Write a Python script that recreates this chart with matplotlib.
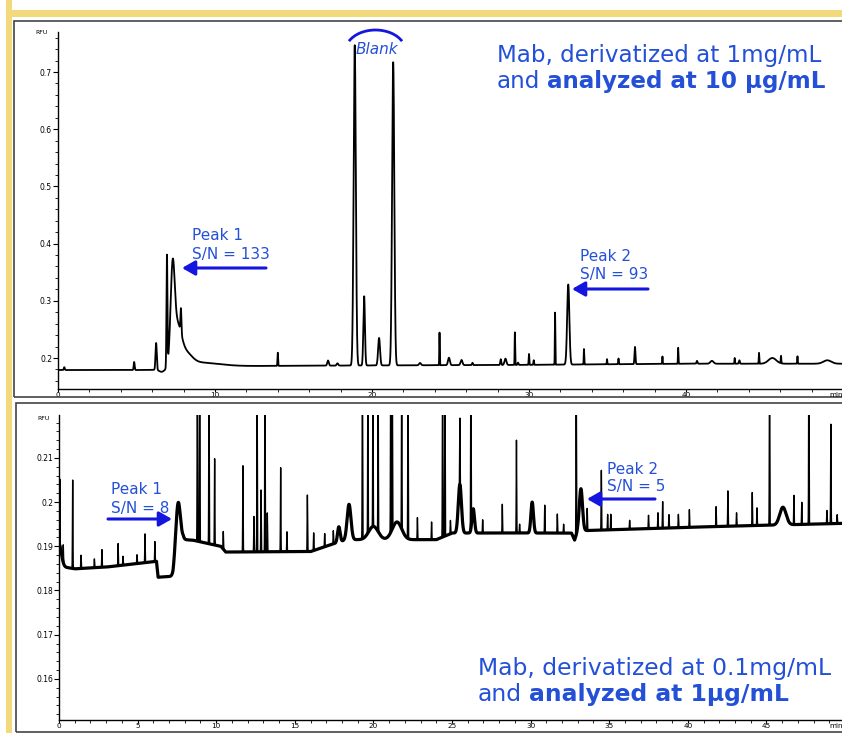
import numpy as np
import matplotlib.pyplot as plt
from matplotlib.patches import Rectangle, Arc, FancyArrowPatch
from matplotlib.ticker import MultipleLocator, FormatStrFormatter

W, H = 842, 733

## top run: derivatized at 1 mg/mL, analyzed at 10 ug/mL
top_base_t = [0, 6.8, 7.6, 12, 20, 30, 40, 50]
top_base_v = [0.179, 0.179, 0.186, 0.186, 0.187, 0.188, 0.190, 0.190]
# peaks: retention time (min), height above baseline (RFU), width (sigma, min)
top_peak_t = [0.4, 4.85, 6.25, 6.6, 6.94, 7.3, 7.6, 8.1, 9.0, 7.83,
              14.0, 17.2, 17.8, 18.9, 19.5, 20.45, 21.35, 23.06, 24.3, 24.9,
              25.7, 26.4, 28.2, 28.5, 29.1, 29.3, 30.0, 30.3, 31.66, 32.5,
              33.5, 34.97, 35.7, 36.75, 38.5, 39.5, 40.7, 41.65, 43.1, 43.4,
              44.65, 45.5, 46.05, 47.1, 49.0]
top_peak_h = [0.005, 0.014, 0.047, -0.004, 0.194, 0.155, 0.06, 0.02, 0.006, 0.042,
              0.023, 0.009, 0.004, 0.56, 0.121, 0.048, 0.53, 0.004, 0.057, 0.013,
              0.009, 0.004, 0.010, 0.011, 0.057, 0.004, 0.019, 0.008, 0.091, 0.14,
              0.027, 0.009, 0.010, 0.030, 0.013, 0.028, 0.005, 0.005, 0.010, 0.006,
              0.019, 0.010, 0.013, 0.013, 0.006]
top_peak_w = [0.03, 0.03, 0.04, 0.15, 0.03, 0.13, 0.25, 0.4, 1.2, 0.03,
              0.02, 0.05, 0.05, 0.07, 0.05, 0.06, 0.07, 0.06, 0.015, 0.06,
              0.06, 0.03, 0.03, 0.06, 0.015, 0.03, 0.02, 0.02, 0.015, 0.07,
              0.015, 0.015, 0.02, 0.03, 0.015, 0.015, 0.03, 0.1, 0.015, 0.03,
              0.015, 0.25, 0.015, 0.015, 0.25]
top_xticks = [0, 10, 20, 30, 40]

## bottom run: derivatized at 0.1 mg/mL, analyzed at 1 ug/mL
bot_base_t = [0, 1, 3, 6.2, 6.3, 7.25, 7.9, 8.5, 10.3, 10.6, 16, 17, 18.3,
              24, 25, 32.6, 32.8, 33.0, 40, 50]
bot_base_v = [0.1855, 0.1849, 0.1853, 0.1866, 0.1830, 0.1832, 0.1915, 0.1914,
              0.1900, 0.1887, 0.1888, 0.1900, 0.1915, 0.1915, 0.1930, 0.1930,
              0.1914, 0.1935, 0.1943, 0.1952]
# broad features (peak 1, peak 2 and humps)
bot_broad_t = [0.0, 7.57, 17.8, 18.45, 20.0, 21.5, 25.5, 26.35, 30.1, 33.2, 46.05]
bot_broad_h = [0.005, 0.0125, 0.0035, 0.008, 0.003, 0.004, 0.011, 0.0055, 0.007, 0.0095, 0.004]
bot_broad_w = [0.15, 0.15, 0.08, 0.12, 0.3, 0.3, 0.1, 0.08, 0.08, 0.1, 0.2]
# sharp spikes (tall ones run off the top of the scale)
bot_spike_t = [0.05, 0.27, 0.87, 1.4, 2.25, 2.73, 3.76, 4.07, 4.96, 5.47, 6.1,
               8.8, 8.95, 9.54, 9.9, 10.45, 11.7, 12.4, 12.6, 12.85, 13.1, 13.25,
               14.1, 14.5, 15.8, 16.2, 16.9, 17.45, 19.3, 19.65, 19.97, 20.3,
               21.1, 21.2, 21.8, 22.2, 22.8, 23.7, 24.4, 24.55, 24.9, 25.5, 26.2,
               26.95, 28.2, 29.1, 29.3, 30.9, 31.7, 32.1, 32.9, 33.6, 34.5, 34.9,
               35.1, 36.3, 37.5, 38.1, 38.4, 38.8, 39.4, 40.1, 41.8, 42.55, 43.1,
               44.1, 44.4, 45.2, 46.75, 47.25, 47.7, 48.85, 49.1, 49.5]
bot_spike_h = [0.015, 0.004, 0.020, 0.003, 0.002, 0.004, 0.005, 0.002, 0.002, 0.0065, 0.0045,
               0.04, 0.04, 0.04, 0.0195, 0.004, 0.0195, 0.008, 0.04, 0.014, 0.04, 0.0088,
               0.019, 0.0045, 0.0128, 0.004, 0.003, 0.003, 0.04, 0.04, 0.04, 0.04,
               0.04, 0.04, 0.04, 0.04, 0.005, 0.004, 0.04, 0.04, 0.003, 0.015, 0.04,
               0.003, 0.0065, 0.021, 0.002, 0.0063, 0.0043, 0.002, 0.04, 0.005, 0.0135, 0.0035,
               0.0035, 0.002, 0.003, 0.0035, 0.006, 0.003, 0.003, 0.004, 0.0045, 0.008, 0.003,
               0.0075, 0.004, 0.04, 0.0066, 0.005, 0.04, 0.003, 0.0225, 0.002]
bot_xticks = [0, 5, 10, 15, 20, 25, 30, 35, 40, 45]

def trace(t, base_t, base_v, pk_t, pk_h, pk_w):
    y = np.interp(t, base_t, base_v)
    for c, h, w in zip(pk_t, pk_h, pk_w):
        y = y + h * np.exp(-0.5 * ((t - c) / w) ** 2)
    return y

def fx(px):
    return px / W

def fy(py):
    return 1 - py / H

t = np.linspace(0, 50, 40001)
y_top = trace(t, top_base_t, top_base_v, top_peak_t, top_peak_h, top_peak_w)
y_band = trace(t, bot_base_t, bot_base_v, bot_broad_t, bot_broad_h, bot_broad_w)
y_bot = y_band + trace(t, [0, 50], [0, 0], bot_spike_t, bot_spike_h, [0.014] * len(bot_spike_t))

fig = plt.figure(figsize=(W / 100, H / 100), dpi=100)

## yellow page border and panel frames
gold = '#f1d97c'
fig.add_artist(Rectangle((fx(6), 0), fx(6), 1, transform=fig.transFigure, color=gold, lw=0))
fig.add_artist(Rectangle((fx(6), fy(17)), 1, fy(10) - fy(17), transform=fig.transFigure, color=gold, lw=0))
fig.add_artist(Rectangle((fx(14), fy(397)), fx(880) - fx(14), fy(21) - fy(397),
                         transform=fig.transFigure, fill=False, ec='#444444', lw=1.2))
fig.add_artist(Rectangle((fx(16), fy(732)), fx(880) - fx(16), fy(403) - fy(732),
                         transform=fig.transFigure, fill=False, ec='#444444', lw=1.2))

ax1 = fig.add_axes([fx(58), fy(389), fx(843) - fx(58), fy(32) - fy(389)])
ax2 = fig.add_axes([fx(59), fy(720), fx(845) - fx(59), fy(415) - fy(720)])

ax1.plot(t, y_top, color='black', lw=1.3)
ax2.plot(t, y_band, color='black', lw=2.3, solid_capstyle='butt')
ax2.plot(t, y_bot, color='black', lw=1.0)

ax1.set_xticks(top_xticks)
ax1.xaxis.set_minor_locator(MultipleLocator(2))
ax1.yaxis.set_major_locator(MultipleLocator(0.1))
ax1.yaxis.set_minor_locator(MultipleLocator(0.02))
ax1.set_xlim(0, 50)
ax1.set_ylim(0.1458, 0.770)

ax2.set_xticks(bot_xticks)
ax2.xaxis.set_minor_locator(MultipleLocator(1))
ax2.yaxis.set_major_locator(MultipleLocator(0.01))
ax2.yaxis.set_minor_locator(MultipleLocator(0.002))
ax2.set_xlim(0, 50)
ax2.set_ylim(0.1507, 0.2197)

for ax in (ax1, ax2):
    ax.set_facecolor('none')
    ax.spines['top'].set_visible(False)
    ax.spines['right'].set_visible(False)
    ax.spines['left'].set_linewidth(1.0)
    ax.spines['bottom'].set_linewidth(1.0)
    ax.xaxis.set_major_formatter(FormatStrFormatter('%g'))
    ax.yaxis.set_major_formatter(FormatStrFormatter('%g'))
    ax.tick_params(axis='y', which='major', length=3.5, width=0.8, labelsize=5.5, pad=0.8)
    ax.tick_params(axis='y', which='minor', length=2.2, width=0.6)
    ax.tick_params(axis='x', which='major', length=2.2, width=0.8, labelsize=5.2, pad=0.3)
    ax.tick_params(axis='x', which='minor', length=1.8, width=0.6)

fig.text(fx(42), fy(33), 'RFU', fontsize=4.5, ha='center', va='center')
fig.text(fx(44), fy(419), 'RFU', fontsize=4.5, ha='center', va='center')
fig.text(fx(836), fy(395), 'min', fontsize=5.2, ha='center', va='center')
fig.text(fx(836), fy(726), 'min', fontsize=5.2, ha='center', va='center')

## annotations
txt_blue = '#2450d8'
arr_blue = '#1515e0'

def big_label(x, y1, y2, first, bold, size):
    fig.text(fx(x), fy(y1), first, fontsize=size, color=txt_blue, ha='left', va='baseline')
    a = fig.text(fx(x), fy(y2), 'and', fontsize=size, color=txt_blue, ha='left', va='baseline')
    fig.add_artist(plt.Annotation(bold, xy=(1, 0), xycoords=a, xytext=(5, 0),
                                  textcoords='offset points', fontsize=size,
                                  color=txt_blue, fontweight='bold', va='bottom'))

big_label(497, 62, 88, 'Mab, derivatized at 1mg/mL', 'analyzed at 10 µg/mL', 16.6)
big_label(478, 675, 701, 'Mab, derivatized at 0.1mg/mL', 'analyzed at 1µg/mL', 16.9)

def peak_label(x, y1, y2, name, sn, ax_from, ax_to, ay):
    fig.text(fx(x), fy(y1), name, fontsize=11, color=txt_blue, ha='left', va='center')
    fig.text(fx(x), fy(y2), sn, fontsize=11, color=txt_blue, ha='left', va='center')
    fig.add_artist(FancyArrowPatch((fx(ax_from), fy(ay)), (fx(ax_to), fy(ay)),
                                   transform=fig.transFigure, color=arr_blue, lw=2.2,
                                   arrowstyle='-|>,head_length=0.7,head_width=0.4',
                                   mutation_scale=11, shrinkA=0, shrinkB=0))

peak_label(192, 236, 255, 'Peak 1', 'S/N = 133', 266, 182, 268)
peak_label(580, 256, 274, 'Peak 2', 'S/N = 93', 648, 572, 289)
peak_label(111, 489, 508, 'Peak 1', 'S/N = 8', 108, 172, 519)
peak_label(607, 469, 487, 'Peak 2', 'S/N = 5', 655, 587, 499)

fig.text(fx(377), fy(49), 'Blank', fontsize=11, style='italic', color=txt_blue,
         ha='center', va='center')
fig.add_artist(Arc((fx(375.5), fy(51)), fx(60), 42 / H, theta1=23, theta2=157,
                   transform=fig.transFigure, color=arr_blue, lw=2.0))

fig.savefig('out.png', dpi=100)
